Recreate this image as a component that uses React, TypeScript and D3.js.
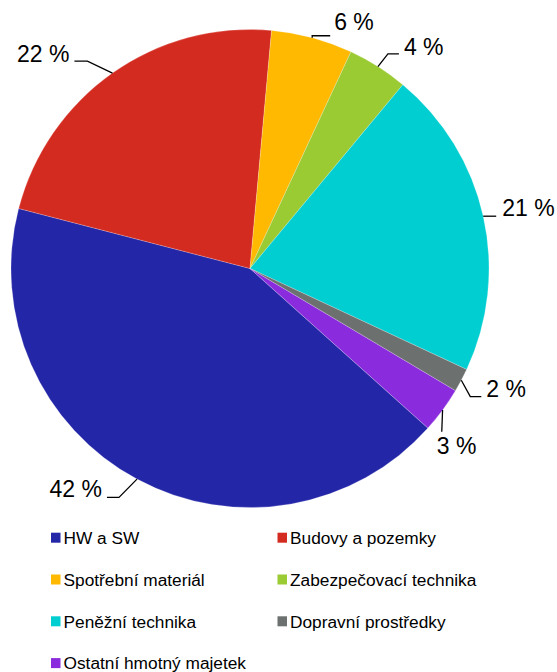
import React from "react";
import * as d3 from "d3";

const categories = [
  "HW a SW",
  "Budovy a pozemky",
  "Spotřební materiál",
  "Zabezpečovací technika",
  "Peněžní technika",
  "Dopravní prostředky",
  "Ostatní hmotný majetek",
];
const values = [42.4, 22.4, 5.5, 4.1, 20.9, 1.6, 3.1];
const labels = ["42 %", "22 %", "6 %", "4 %", "21 %", "2 %", "3 %"];
const colors = ["#2426A8", "#D42B20", "#FFB900", "#9BCB33", "#00CED1", "#6C706F", "#8A2BDD"];

// label leader layout: elbow offset from edge point, tail length, text offset
const labelLayout = [
  { ex: -18, ey: 18.3, tail: -12, tx: -5, ty: 0, anchor: "end" },
  { ex: -25, ey: -12, tail: -13, tx: -5, ty: 1, anchor: "end" },
  { ex: 0, ey: -2, tail: 18, tx: 4, ty: -6, anchor: "start" },
  { ex: 10, ey: -12.7, tail: 11, tx: 5, ty: 0.7, anchor: "start" },
  { ex: 0, ey: 0, tail: 13, tx: 6, ty: 0, anchor: "start" },
  { ex: 9, ey: 16.4, tail: 11, tx: 5, ty: 0, anchor: "start" },
  { ex: -0.8, ey: 21.7, tail: 0, tx: -5, ty: 22.3, anchor: "start" },
];

const W = 557;
const H = 672;
const cx = 250;
const cy = 268.5;
const R = 239;
const startDeg = 131.9;

export default function App() {
  const pie = d3
    .pie<number>()
    .sort(null)
    .value((d) => d)
    .startAngle((startDeg * Math.PI) / 180)
    .endAngle((startDeg * Math.PI) / 180 + 2 * Math.PI);
  const arcs = pie(values);
  const arc = d3.arc<d3.PieArcDatum<number>>().innerRadius(0).outerRadius(R);

  const font = "Arial, 'Liberation Sans', sans-serif";

  return (
    <svg
      width={W}
      height={H}
      style={{ position: "absolute", left: 0, top: 0, display: "block" }}
      fontFamily={font}
    >
      <rect width={W} height={H} fill="#fff" />
      <g transform={`translate(${cx},${cy})`}>
        {arcs.map((a, i) => (
          <path key={i} d={arc(a) || ""} fill={colors[i]} stroke="#ffffff" strokeOpacity={0.35} strokeWidth={0.6} />
        ))}
        {arcs.map((a, i) => {
          const mid = (a.startAngle + a.endAngle) / 2;
          const px = R * Math.sin(mid);
          const py = -R * Math.cos(mid);
          const L = labelLayout[i];
          const ex = px + L.ex;
          const ey = py + L.ey;
          const tx2 = ex + L.tail;
          const textX = tx2 + L.tx;
          const textY = ey + L.ty;
          return (
            <g key={"l" + i}>
              <polyline
                points={`${px},${py} ${ex},${ey} ${tx2},${ey}`}
                fill="none"
                stroke="#000"
                strokeWidth={1.3}
              />
              <text x={textX} y={textY} fontSize={23} textAnchor={L.anchor} fill="#000">
                {labels[i]}
              </text>
            </g>
          );
        })}
      </g>
      <g>
        {categories.map((c, i) => {
          const col = i % 2;
          const row = Math.floor(i / 2);
          const x = col === 0 ? 51 : 277.5;
          const base = 544 + row * 41.8;
          return (
            <g key={"lg" + i}>
              <rect x={x} y={base - 11.3} width={9.5} height={10} fill={colors[i]} />
              <text x={x + 12.5} y={base} fontSize={17.3} fill="#000">
                {c}
              </text>
            </g>
          );
        })}
      </g>
    </svg>
  );
}
